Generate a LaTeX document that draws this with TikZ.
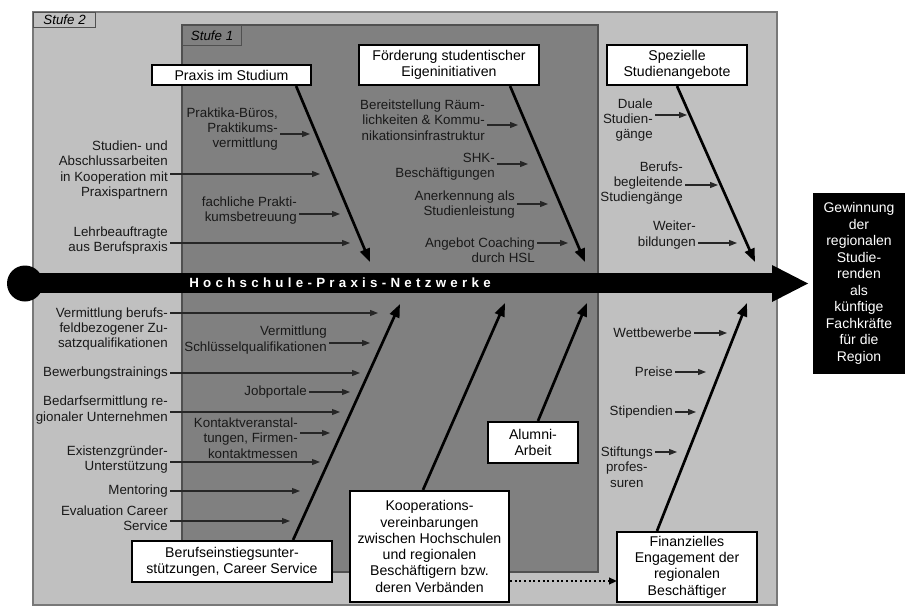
\documentclass[tikz,border=0pt]{standalone}
\usepackage{fontspec}
\setmainfont{Liberation Sans}
\usetikzlibrary{arrows.meta,calc}
\definecolor{lightg}{RGB}{192,192,192}
\definecolor{darkg}{RGB}{128,128,128}
\definecolor{edgeg}{RGB}{80,80,80}
\definecolor{edgel}{RGB}{120,120,120}
\begin{document}
\begin{tikzpicture}[x=0.75pt,y=-0.75pt,
  lbl/.style={font=\fontsize{10}{11.5}\selectfont, align=right, inner sep=1.5pt, anchor=east, text=black!90},
  lblc/.style={lbl, align=center},
  cat/.style={draw=black, line width=1.6pt, fill=white, font=\fontsize{10.6}{12.2}\selectfont, align=center, inner sep=1pt},
  arr/.style={-{Triangle[length=6pt,width=4.5pt]}, line width=0.8pt, draw=black!85},
  bone/.style={-{Triangle[length=10pt,width=7.5pt]}, line width=2pt, draw=black},
  tabbox/.style={draw=edgeg, line width=0.9pt, font=\fontsize{10}{11}\selectfont\itshape, anchor=north west, inner sep=0pt}
]
\useasboundingbox (0,0) rectangle (909,607);
\fill[white] (0,0) rectangle (909,607);
% Stufe 2
\filldraw[fill=lightg, draw=edgel, line width=1.2pt] (33,12) rectangle (777,605);
\node[tabbox, fill=lightg, minimum width=46.5pt, minimum height=11.25pt] (tab2) at (33,12) {Stufe 2};
% Stufe 1
\filldraw[fill=darkg, draw=edgeg, line width=1.2pt] (182,25) rectangle (598,572);
\node[tabbox, fill=darkg, minimum width=44.25pt, minimum height=15pt] (tab1) at (182,25) {Stufe 1};
% spine
\fill[black] (25,283.5) circle[radius=13.5pt];
\fill[black] (25,273) rectangle (772,293);
\fill[black] (772,265) -- (808,283.5) -- (772,302) -- cycle;
\node[font=\fontsize{10}{12}\selectfont\bfseries\addfontfeature{LetterSpace=32}, text=white, inner sep=0pt] (spine) at (340,283) {Hochschule-Praxis-Netzwerke};
% result
\node[fill=black, text=white, minimum width=69pt, minimum height=135.75pt, inner sep=0pt, align=center, font=\fontsize{10.5}{12.4}\selectfont] (goal) at (859,283.5) {Gewinnung\\der\\regionalen\\Studie-\\renden\\als\\künftige\\Fachkräfte\\für die\\Region};
% category boxes
\node[cat, minimum width=119.3pt, minimum height=15pt] (praxis) at (231.5,75) {Praxis im Studium};
\node[cat, minimum width=135pt, minimum height=30pt] (foerd) at (449,65) {Förderung studentischer\\Eigeninitiativen};
\node[cat, minimum width=105pt, minimum height=30pt] (spez) at (677,65) {Spezielle\\Studienangebote};
\node[cat, minimum width=150pt, minimum height=30.75pt] (beruf) at (232,561.5) {Berufseinstiegsunter-\\stützungen, Career Service};
\node[cat, minimum width=119.25pt, minimum height=83.25pt] (koop) at (429.5,546.5) {Kooperations-\\vereinbarungen\\zwischen Hochschulen\\und regionalen\\Beschäftigern bzw.\\deren Verbänden};
\node[cat, minimum width=67.5pt, minimum height=30.75pt] (alumni) at (533,442.5) {Alumni-\\Arbeit};
\node[cat, minimum width=105pt, minimum height=52.5pt] (finanz) at (687,567) {Finanzielles\\Engagement der\\regionalen\\Beschäftiger};
% bones
\coordinate (tA) at (370,262);
\coordinate (tB) at (585,262);
\coordinate (tC) at (755,262);
\coordinate (tD) at (400,304);
\coordinate (tE) at (505,303);
\coordinate (tF) at (587,303);
\coordinate (tG) at (747,303);
\draw[bone] ([xshift=-12pt]praxis.south east) -- (tA);
\draw[bone] ([xshift=-22.5pt]foerd.south east) -- (tB);
\draw[bone] (spez.south) -- (tC);
\draw[bone] ([xshift=-30pt]beruf.north east) -- (tD);
\draw[bone] ([xshift=-4.9pt]koop.north) -- (tE);
\draw[bone] ([xshift=3.75pt]alumni.north) -- (tF);
\draw[bone] ([xshift=-22.5pt]finanz.north) -- (tG);
% dotted link
\coordinate (dotT) at (617,581);
\draw[dotted, line width=1.5pt, -{Triangle[length=6pt,width=5pt]}] (koop.east |- dotT) -- (dotT);
% labels upper
\node[lbl] (l1) at (170,170) {Studien- und\\Abschlussarbeiten\\in Kooperation mit\\Praxispartnern};
\coordinate (a1) at (320,174); \draw[arr] (l1.east |- a1) -- (a1);
\node[lbl] (l2) at (170,240.5) {Lehrbeauftragte\\aus Berufspraxis};
\coordinate (a2) at (350,243); \draw[arr] (l2.east |- a2) -- (a2);
\node[lbl] (p1) at (280,129) {Praktika-Büros,\\Praktikums-\\vermittlung};
\coordinate (a3) at (310,134); \draw[arr] (p1.east |- a3) -- (a3);
\node[lbl] (p2) at (299,210.5) {fachliche Prakti-\\kumsbetreuung};
\coordinate (a4) at (340,214); \draw[arr] (p2.east |- a4) -- (a4);
\node[lbl] (f1) at (487,120) {Bereitstellung Räum-\\lichkeiten \& Kommu-\\nikationsinfrastruktur};
\coordinate (a5) at (518,125); \draw[arr] (f1.east |- a5) -- (a5);
\node[lbl] (f2) at (497,166.5) {SHK-\\Beschäftigungen};
\coordinate (a6) at (528,164); \draw[arr] (f2.east |- a6) -- (a6);
\node[lbl] (f3) at (517,204.5) {Anerkennung als\\Studienleistung};
\coordinate (a7) at (548,204); \draw[arr] (f3.east |- a7) -- (a7);
\node[lbl] (f4) at (537,250.5) {Angebot Coaching\\durch HSL};
\coordinate (a8) at (568,243); \draw[arr] (f4.east |- a8) -- (a8);
\node[lbl] (s1) at (655,120) {Duale\\Studien-\\gänge};
\coordinate (a9) at (687,115); \draw[arr] (s1.east |- a9) -- (a9);
\node[lbl] (s2) at (685,183) {Berufs-\\begleitende\\Studiengänge};
\coordinate (a10) at (718,185); \draw[arr] (s2.east |- a10) -- (a10);
\node[lbl] (s3) at (698,235) {Weiter-\\bildungen};
\coordinate (a11) at (737,243); \draw[arr] (s3.east |- a11) -- (a11);
% labels lower
\node[lbl] (b1) at (170,329) {Vermittlung berufs-\\feldbezogener Zu-\\satzqualifikationen};
\coordinate (c1) at (378,313); \draw[arr] (b1.east |- c1) -- (c1);
\node[lbl] (b2) at (329,340) {Vermittlung\\Schlüsselqualifikationen};
\coordinate (c2) at (370,343); \draw[arr] (b2.east |- c2) -- (c2);
\node[lbl] (b3) at (170,373) {Bewerbungstrainings};
\coordinate (c3) at (360,373); \draw[arr] (b3.east |- c3) -- (c3);
\node[lbl] (b4) at (309,392) {Jobportale};
\coordinate (c4) at (350,392); \draw[arr] (b4.east |- c4) -- (c4);
\node[lbl] (b5) at (170,410) {Bedarfsermittlung re-\\gionaler Unternehmen};
\coordinate (c5) at (340,412); \draw[arr] (b5.east |- c5) -- (c5);
\node[lbl] (b6) at (300,438) {Kontaktveranstal-\\tungen, Firmen-\\kontaktmessen};
\coordinate (c6) at (330,433); \draw[arr] (b6.east |- c6) -- (c6);
\node[lbl] (b7) at (170,459.5) {Existenzgründer-\\Unterstützung};
\coordinate (c7) at (320,462); \draw[arr] (b7.east |- c7) -- (c7);
\node[lbl] (b8) at (170,491) {Mentoring};
\coordinate (c8) at (300,491); \draw[arr] (b8.east |- c8) -- (c8);
\node[lbl] (b9) at (170,518.5) {Evaluation Career\\Service};
\coordinate (c9) at (290,521); \draw[arr] (b9.east |- c9) -- (c9);
\node[lbl] (r1) at (694,333) {Wettbewerbe};
\coordinate (d1) at (727,333); \draw[arr] (r1.east |- d1) -- (d1);
\node[lbl] (r2) at (675,372) {Preise};
\coordinate (d2) at (706,372); \draw[arr] (r2.east |- d2) -- (d2);
\node[lbl] (r3) at (675,412) {Stipendien};
\coordinate (d3) at (696,412); \draw[arr] (r3.east |- d3) -- (d3);
\node[lblc] (r4) at (655,467) {Stiftungs\\profes-\\suren};
\coordinate (d4) at (677,452); \draw[arr] (r4.east |- d4) -- (d4);
\end{tikzpicture}
\end{document}
